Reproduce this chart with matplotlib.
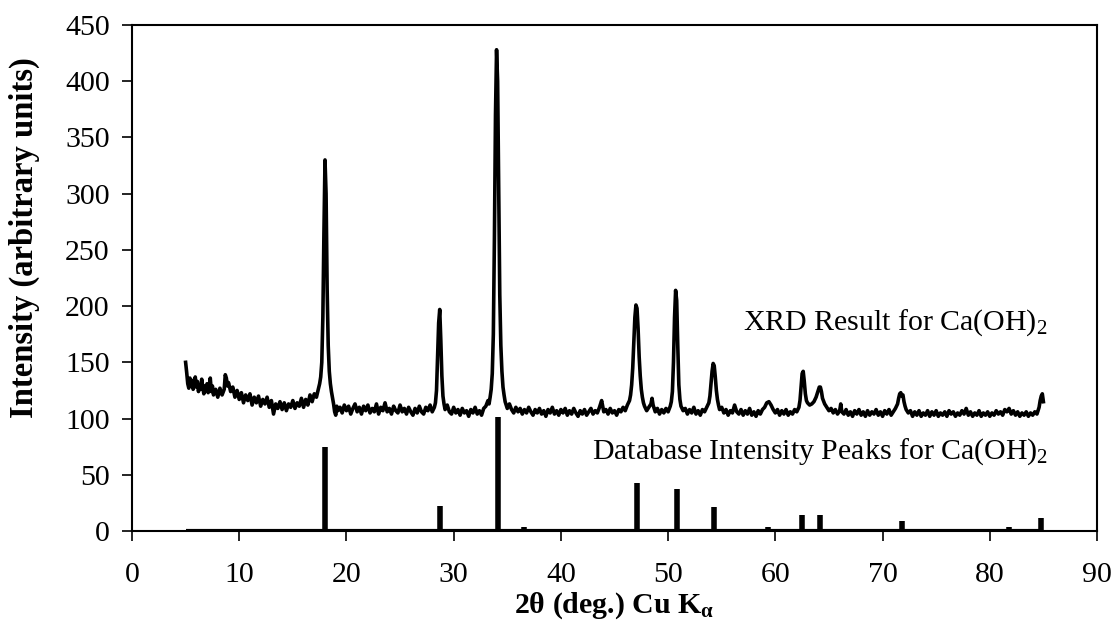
import matplotlib
matplotlib.use("Agg")
import matplotlib.pyplot as plt

# ---------------- data ----------------
xrd_two_theta = [
    5.0, 5.1, 5.2, 5.3, 5.4, 5.5, 5.6, 5.7, 5.8, 5.9, 6.0, 6.1, 6.2, 6.3, 6.4, 6.5, 6.6, 6.7, 6.8, 6.9,
    7.0, 7.1, 7.2, 7.3, 7.4, 7.5, 7.6, 7.8, 8.0, 8.2, 8.4, 8.6, 8.7, 8.8, 8.9, 9.0, 9.2, 9.4, 9.6, 9.8,
    10.0, 10.2, 10.4, 10.6, 10.8, 11.0, 11.2, 11.4, 11.6, 11.8, 12.0, 12.2, 12.4, 12.6, 12.8, 13.0, 13.2,
    13.4, 13.6, 13.8, 14.0, 14.2, 14.4, 14.6, 14.8, 15.0, 15.2, 15.4, 15.6, 15.8, 16.0, 16.2, 16.4, 16.6,
    16.8, 17.0, 17.2, 17.4, 17.5, 17.6, 17.7, 17.8, 17.9, 18.0, 18.1, 18.2, 18.3, 18.4, 18.5, 18.6, 18.8,
    18.9, 19.0, 19.1, 19.2, 19.4, 19.6, 19.8, 20.0, 20.2, 20.4, 20.6, 20.8, 21.0, 21.2, 21.4, 21.6, 21.8,
    22.0, 22.2, 22.4, 22.6, 22.8, 23.0, 23.2, 23.4, 23.6, 23.8, 24.0, 24.2, 24.4, 24.6, 24.8, 25.0, 25.2,
    25.4, 25.6, 25.8, 26.0, 26.2, 26.4, 26.6, 26.8, 27.0, 27.2, 27.4, 27.6, 27.8, 28.0, 28.2, 28.3, 28.4,
    28.5, 28.6, 28.7, 28.8, 28.9, 29.0, 29.1, 29.2, 29.4, 29.6, 29.8, 30.0, 30.2, 30.4, 30.6, 30.8, 31.0,
    31.2, 31.4, 31.6, 31.8, 32.0, 32.2, 32.4, 32.6, 32.8, 33.0, 33.2, 33.3, 33.4, 33.5, 33.6, 33.7, 33.8,
    33.9, 34.0, 34.1, 34.2, 34.3, 34.4, 34.5, 34.6, 34.7, 34.8, 34.9, 35.0, 35.2, 35.4, 35.6, 35.8, 36.0,
    36.2, 36.4, 36.6, 36.8, 37.0, 37.2, 37.4, 37.6, 37.8, 38.0, 38.2, 38.4, 38.6, 38.8, 39.0, 39.2, 39.4,
    39.6, 39.8, 40.0, 40.2, 40.4, 40.6, 40.8, 41.0, 41.2, 41.4, 41.6, 41.8, 42.0, 42.2, 42.4, 42.6, 42.8,
    43.0, 43.2, 43.4, 43.6, 43.8, 44.0, 44.2, 44.4, 44.6, 44.8, 45.0, 45.2, 45.4, 45.6, 45.8, 46.0, 46.2,
    46.4, 46.5, 46.6, 46.7, 46.8, 46.9, 47.0, 47.1, 47.2, 47.3, 47.4, 47.5, 47.6, 47.7, 47.8, 48.0, 48.2,
    48.4, 48.5, 48.6, 48.8, 49.0, 49.2, 49.4, 49.6, 49.8, 50.0, 50.2, 50.3, 50.4, 50.5, 50.6, 50.7, 50.8,
    50.9, 51.0, 51.1, 51.2, 51.4, 51.6, 51.8, 52.0, 52.2, 52.4, 52.6, 52.8, 53.0, 53.2, 53.4, 53.6, 53.8,
    53.9, 54.0, 54.1, 54.2, 54.3, 54.4, 54.5, 54.6, 54.7, 54.8, 55.0, 55.2, 55.4, 55.6, 55.8, 56.0, 56.2,
    56.4, 56.6, 56.8, 57.0, 57.2, 57.4, 57.6, 57.8, 58.0, 58.2, 58.4, 58.6, 58.8, 59.0, 59.2, 59.4, 59.6,
    59.8, 60.0, 60.2, 60.4, 60.6, 60.8, 61.0, 61.2, 61.4, 61.6, 61.8, 62.0, 62.2, 62.3, 62.4, 62.5, 62.6,
    62.7, 62.8, 62.9, 63.0, 63.2, 63.4, 63.6, 63.8, 64.0, 64.1, 64.2, 64.3, 64.4, 64.6, 64.8, 65.0, 65.2,
    65.4, 65.6, 65.8, 66.0, 66.1, 66.2, 66.4, 66.6, 66.8, 67.0, 67.2, 67.4, 67.6, 67.8, 68.0, 68.2, 68.4,
    68.6, 68.8, 69.0, 69.2, 69.4, 69.6, 69.8, 70.0, 70.2, 70.4, 70.6, 70.8, 71.0, 71.2, 71.4, 71.5, 71.6,
    71.7, 71.8, 71.9, 72.0, 72.1, 72.2, 72.4, 72.6, 72.8, 73.0, 73.2, 73.4, 73.6, 73.8, 74.0, 74.2, 74.4,
    74.6, 74.8, 75.0, 75.2, 75.4, 75.6, 75.8, 76.0, 76.2, 76.4, 76.6, 76.8, 77.0, 77.2, 77.4, 77.6, 77.8,
    78.0, 78.2, 78.4, 78.6, 78.8, 79.0, 79.2, 79.4, 79.6, 79.8, 80.0, 80.2, 80.4, 80.6, 80.8, 81.0, 81.2,
    81.4, 81.6, 81.8, 82.0, 82.2, 82.4, 82.6, 82.8, 83.0, 83.2, 83.4, 83.6, 83.8, 84.0, 84.2, 84.4, 84.6,
    84.7, 84.8, 84.9, 85.0,
]
xrd_intensity = [
    150, 141, 131, 127, 136, 129, 134, 126, 131, 137, 128, 133, 124, 130, 126, 135, 128, 122, 129, 125,
    131, 123, 127, 136, 124, 129, 121, 126, 119, 127, 121, 126, 139, 136, 129, 132, 124, 128, 119, 125,
    117, 123, 114, 121, 116, 122, 112, 119, 114, 120, 111, 117, 113, 119, 110, 116, 104,
    113, 109, 115, 108, 114, 107, 113, 110, 116, 109, 114, 111, 118, 110, 117, 112, 121,
    115, 122, 119, 127, 131, 137, 150, 190, 265, 330, 300, 215, 165, 142, 131, 124, 113,
    106, 103, 111, 107, 110, 105, 112, 107, 111, 104, 109, 113, 106, 110, 104, 111, 107,
    112, 105, 109, 106, 113, 104, 110, 107, 114, 106, 109, 104, 111, 107, 105, 112, 106,
    109, 104, 110, 106, 103, 109, 105, 111, 106, 104, 110, 107, 112, 106, 110, 114, 125,
    155, 185, 197, 170, 138, 120, 113, 108, 112, 106, 104, 110, 105, 108, 103, 109, 105,
    107, 102, 108, 105, 110, 104, 107, 103, 109, 111, 116, 113, 119, 126, 140, 175, 260,
    370, 428, 400, 300, 210, 165, 142, 128, 121, 115, 112, 109, 113, 108, 105, 110, 106,
    109, 104, 108, 105, 110, 106, 103, 108, 105, 109, 104, 107, 102, 108, 105, 110, 104,
    107, 103, 108, 105, 109, 103, 107, 104, 109, 105, 102, 107, 104, 108, 103, 106, 109,
    104, 107, 105, 110, 116, 106, 108, 104, 109, 105, 107, 103, 108, 106, 110, 107, 112,
    116, 121, 130, 145, 168, 190, 201, 198, 180, 155, 138, 126, 119, 114, 111, 107, 110,
    113, 118, 112, 106, 109, 104, 108, 105, 109, 106, 111, 115, 124, 150, 190, 214, 205,
    165, 130, 117, 111, 107, 109, 104, 108, 105, 110, 104, 107, 103, 108, 106, 110, 114,
    120, 131, 142, 149, 147, 137, 125, 117, 112, 108, 110, 105, 108, 103, 107, 105, 112,
    106, 104, 108, 103, 107, 104, 109, 103, 106, 102, 107, 104, 108, 110, 114, 115, 112,
    108, 105, 108, 103, 107, 104, 108, 103, 106, 104, 108, 106, 110, 116, 128, 140, 142,
    133, 122, 116, 114, 112, 113, 115, 119, 125, 128, 128, 124, 118, 113, 110, 107, 109,
    105, 108, 104, 107, 113, 106, 104, 108, 103, 106, 102, 107, 104, 108, 103, 106, 102,
    107, 103, 106, 104, 108, 103, 106, 102, 107, 104, 108, 103, 106, 109, 113, 118, 122,
    123, 120, 121, 115, 111, 108, 105, 107, 102, 106, 103, 107, 102, 105, 103, 107, 102,
    106, 103, 107, 102, 105, 103, 106, 102, 107, 104, 106, 102, 105, 103, 107, 104, 109,
    103, 106, 102, 105, 103, 107, 102, 105, 103, 106, 102, 105, 103, 107, 104, 106, 103,
    108, 106, 109, 104, 107, 103, 106, 102, 105, 103, 106, 102, 105, 103, 106, 104, 110,
    116, 120, 122, 115,
]

db_two_theta = [18.0, 28.7, 34.1, 36.6, 47.1, 50.8, 54.3, 56.2, 59.3, 62.5, 64.2, 71.8, 77.6, 79.0, 81.8, 84.8]
db_intensity = [75, 22, 101, 4, 43, 37, 21, 2, 4, 14, 14, 9, 1.5, 1.5, 4, 12]
db_range = [5.0, 85.0]

xrd_label = "XRD Result for Ca(OH)$_2$"
db_label = "Database Intensity Peaks for Ca(OH)$_2$"
x_title = r"2θ (deg.) Cu K$_\mathbf{α}$"
y_title = "Intensity (arbitrary units)"
x_ticks = [0, 10, 20, 30, 40, 50, 60, 70, 80, 90]
y_ticks = [0, 50, 100, 150, 200, 250, 300, 350, 400, 450]

# ---------------- style ----------------
plt.rcParams["font.family"] = ["Liberation Serif", "DejaVu Serif"]
plt.rcParams["mathtext.fontset"] = "custom"
plt.rcParams["mathtext.rm"] = "Liberation Serif"
plt.rcParams["mathtext.it"] = "Liberation Serif:italic"
plt.rcParams["mathtext.bf"] = "Liberation Serif:bold"

fig = plt.figure(figsize=(11.12, 6.24), dpi=100)
ax = fig.add_axes([132 / 1112, 1 - 531 / 624, (1097 - 132) / 1112, (531 - 25) / 624])

ax.plot(xrd_two_theta, xrd_intensity, color="black", lw=2.6, solid_joinstyle="round", zorder=3)
ax.plot(db_range, [0, 0], color="black", lw=3.0, solid_capstyle="butt", zorder=3)
ax.vlines(db_two_theta, 0, db_intensity, color="black", lw=4.0, zorder=3)

ax.set_xlim(0, 90)
ax.set_ylim(0, 450)
ax.set_xticks(x_ticks)
ax.set_yticks(y_ticks)

for s in ax.spines.values():
    s.set_linewidth(1.5)

ax.tick_params(axis="both", direction="out", length=7, width=1.2, labelsize=21.5, colors="black")
ax.tick_params(axis="x", pad=15)
ax.tick_params(axis="y", pad=9)

ax.set_xlabel(x_title, fontsize=21.5, fontweight="bold", labelpad=2)
ax.set_ylabel(y_title, fontsize=23.5, fontweight="bold")
ax.yaxis.set_label_coords(-0.095, 0.58)

ax.text(85.4, 179, xrd_label, fontsize=21.5, ha="right", va="baseline")
ax.text(85.4, 64, db_label, fontsize=21.5, ha="right", va="baseline")

fig.savefig("out.png", dpi=100)
